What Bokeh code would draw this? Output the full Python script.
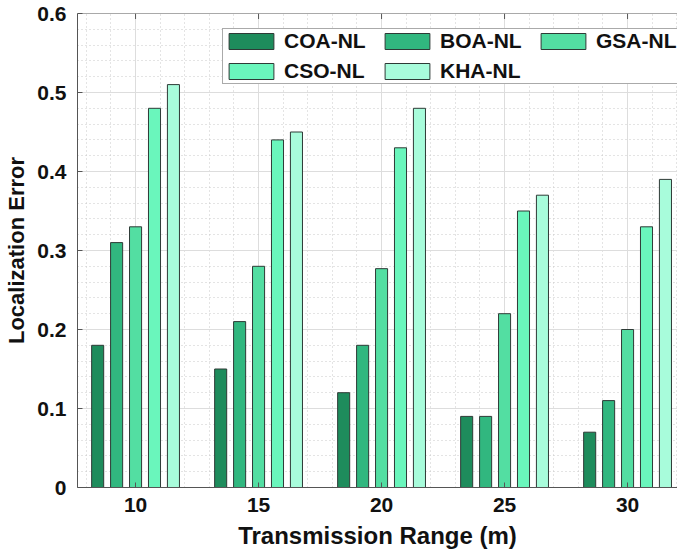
from bokeh.plotting import figure
from bokeh.models import (ColumnDataSource, FixedTicker, CustomJSTickFormatter, Legend,
                          LegendItem, Range1d, Span)
from bokeh.embed import file_html
from bokeh.resources import INLINE

ranges = [10, 15, 20, 25, 30]
series = ["COA-NL", "BOA-NL", "GSA-NL", "CSO-NL", "KHA-NL"]
coa = [0.18, 0.15, 0.12, 0.09, 0.07]
boa = [0.31, 0.21, 0.18, 0.09, 0.11]
gsa = [0.33, 0.28, 0.277, 0.22, 0.20]
cso = [0.48, 0.44, 0.43, 0.35, 0.33]
kha = [0.51, 0.45, 0.48, 0.37, 0.39]
colors = ["#1e8c5c", "#31b77f", "#53dea2", "#6af6bc", "#a8fcdb"]
y_ticks = [0, 0.1, 0.2, 0.3, 0.4, 0.5, 0.6]

values = [coa, boa, gsa, cso, kha]
FONT = "Liberation Sans"
YMAX = y_ticks[-1]

p = figure(width=677, height=559, output_backend="svg", toolbar_location=None,
           x_range=Range1d(7.64, 32.03), y_range=Range1d(0, YMAX),
           min_border_left=77, min_border_right=0, min_border_top=13, min_border_bottom=72,
           background_fill_color="white", border_fill_color="white")
p.outline_line_color = None

# grids
for g in (p.xgrid[0], p.ygrid[0]):
    g.grid_line_color = "#dddddd"
    g.grid_line_width = 1
    g.minor_grid_line_color = "#c8c8c8"
    g.minor_grid_line_dash = "1 3"
    g.minor_grid_line_width = 1

pitch = 0.77
bw = 0.49
renderers = []
for i, (name, vals, col) in enumerate(zip(series, values, colors)):
    xs = [r + (i - 2) * pitch for r in ranges]
    src = ColumnDataSource(dict(x=xs, top=vals))
    rend = p.vbar(x="x", top="top", width=bw, bottom=0, source=src,
                  fill_color=col, line_color="#2e3a36", line_width=1)
    renderers.append(rend)

# top border with inward ticks (box on)
p.add_layout(Span(location=YMAX, dimension="width", line_color="#555555", line_width=1))
p.segment(x0=ranges, x1=ranges, y0=[YMAX] * len(ranges), y1=[YMAX - 0.007] * len(ranges),
          line_color="#555555", line_width=1)

# axes
xa = p.xaxis[0]
xa.ticker = FixedTicker(ticks=ranges, minor_ticks=list(range(7, 33)))
ya = p.yaxis[0]
ya.ticker = FixedTicker(ticks=y_ticks, minor_ticks=[round(k * 0.02, 2) for k in range(31)])
ya.formatter = CustomJSTickFormatter(code="return tick == 0 ? '0' : tick.toFixed(1);")

for ax in (xa, ya):
    ax.major_tick_in = 5
    ax.major_tick_out = 0
    ax.minor_tick_in = 0
    ax.minor_tick_out = 0
    ax.axis_line_color = "#555555"
    ax.major_tick_line_color = "#555555"
    ax.major_label_text_font = FONT
    ax.major_label_text_font_style = "bold"
    ax.major_label_text_color = "#111111"
    ax.major_label_text_font_size = "21px"
    ax.axis_label_text_font = FONT
    ax.axis_label_text_font_style = "bold"
    ax.axis_label_text_color = "#111111"

xa.axis_label_text_font_size = "24px"
ya.axis_label_text_font_size = "22px"
xa.axis_label = "Transmission Range (m)"
ya.axis_label = "Localization Error"
xa.major_label_standoff = 10
ya.major_label_standoff = 11
xa.axis_label_standoff = 7
ya.axis_label_standoff = 5

# legend: column-major fill, so order items to read row-wise
order = [0, 3, 1, 4, 2]
items = [LegendItem(label=series[k], renderers=[renderers[k]]) for k in order]
legend = Legend(items=items, ncols=3, location=(145, 403),
                glyph_width=56, glyph_height=20, label_standoff=5,
                label_width=89, label_height=20, spacing=6, padding=0, margin=0,
                label_text_font=FONT, label_text_font_style="bold",
                label_text_font_size="21px", label_text_color="#111111",
                border_line_color="#555555", border_line_width=1,
                background_fill_color="white", background_fill_alpha=1)
p.add_layout(legend, "center")

open("out.html", "w").write(file_html(p, INLINE))
